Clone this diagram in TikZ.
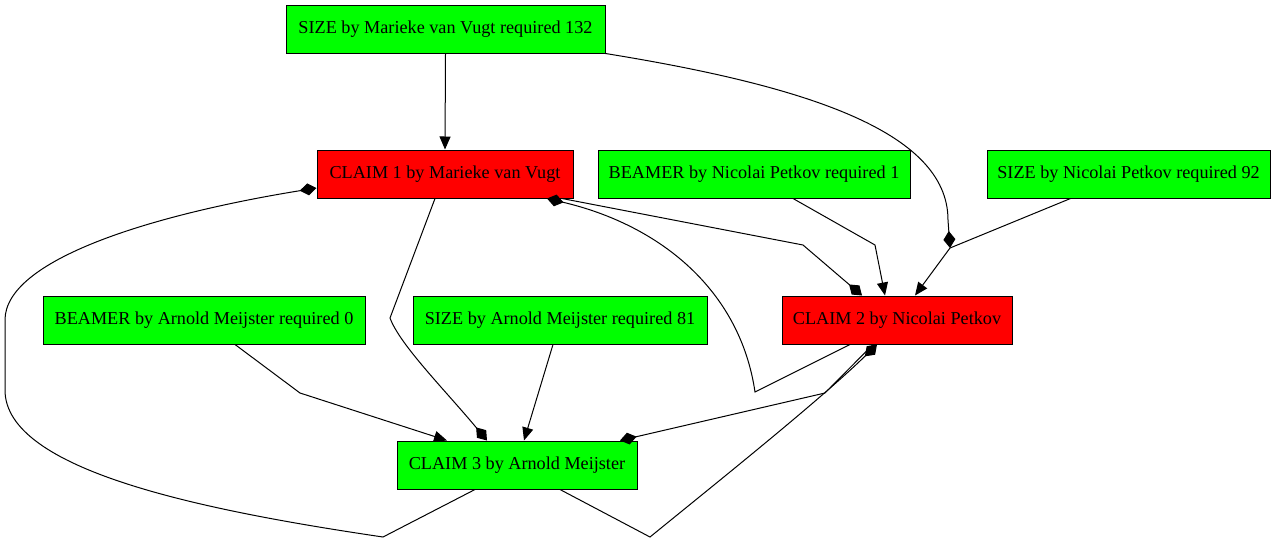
\documentclass[tikz,border=0pt]{standalone}
\usepackage{fontspec}
\setmainfont{Liberation Serif}
\usetikzlibrary{arrows.meta}
\definecolor{okgreen}{RGB}{0,255,0}
\definecolor{failred}{RGB}{255,0,0}
\tikzset{
    rect/.style={draw, line width=1pt, inner sep=0pt, minimum height=48pt,
        font=\fontsize{18.2}{22}\selectfont},
    ok/.style={rect, fill=okgreen},
    fail/.style={rect, fill=failred},
    arr/.style={line width=1pt, -{Triangle[length=13pt,width=11pt]}},
    dia/.style={line width=1pt, -{Diamond[length=17pt,width=12pt]}},
    seg/.style={line width=1pt}
}
\begin{document}
\begin{tikzpicture}[x=1pt,y=-1pt]
    \useasboundingbox (0,0) rectangle (1277,544);
    \node[ok, minimum width=319pt] (size132) at (445.5,29) {SIZE by Marieke van Vugt required 132};
    \node[fail, minimum width=256pt] (claim1) at (445,174) {CLAIM 1 by Marieke van Vugt};
    \node[ok, minimum width=312pt] (beamer1) at (754,174) {BEAMER by Nicolai Petkov required 1};
    \node[ok, minimum width=283pt] (size92) at (1128.5,174) {SIZE by Nicolai Petkov required 92};
    \node[ok, minimum width=322pt] (beamer0) at (204,320) {BEAMER by Arnold Meijster required 0};
    \node[ok, minimum width=294pt] (size81) at (560,320) {SIZE by Arnold Meijster required 81};
    \node[fail, minimum width=230pt] (claim2) at (897,320) {CLAIM 2 by Nicolai Petkov};
    \node[ok, minimum width=240pt] (claim3) at (517,465) {CLAIM 3 by Arnold Meijster};
    \coordinate (j1) at (950,248);
    % into claim 1
    \draw[arr] (size132.south) -- (claim1.north);
    \draw[dia] ([xshift=-47pt]claim2.south) -- (755,392) .. controls (740,290) and (660,225) .. ([xshift=102pt]claim1.south);
    \draw[dia] ([xshift=-42pt]claim3.south) -- (383,537) .. controls (200,510) and (5,470) .. (5,390)
        -- (5,320) .. controls (5,260) and (150,215) .. ([yshift=-14pt]claim1.west);
    % into claim 2
    \draw[dia] (size132.south east) .. controls (800,85) and (948,130) .. (948,220) -- (j1);
    \draw[arr] ([xshift=-58pt]size92.south) -- (j1) -- ([xshift=18pt]claim2.north);
    \draw[arr] ([xshift=39pt]beamer1.south) -- (875,245) -- ([xshift=-12pt]claim2.north);
    \draw[dia] ([xshift=117pt]claim1.south) -- (803,245) -- ([xshift=-35pt]claim2.north);
    \draw[dia] ([xshift=43pt]claim3.south) -- (650,537) .. controls (720,480) and (820,400) .. ([xshift=-20pt]claim2.south);
    % into claim 3
    \draw[dia] ([xshift=-10pt]claim1.south) -- (390,318) .. controls (400,345) and (445,390) .. ([xshift=-30pt]claim3.north);
    \draw[arr] ([xshift=31pt]beamer0.south) -- (300,393) -- ([xshift=-70pt]claim3.north);
    \draw[arr] ([xshift=-7pt]size81.south) -- ([xshift=7pt]claim3.north);
    \draw[dia] ([xshift=-24pt]claim2.south) -- (825,393) -- ([xshift=103pt]claim3.north);
\end{tikzpicture}
\end{document}
